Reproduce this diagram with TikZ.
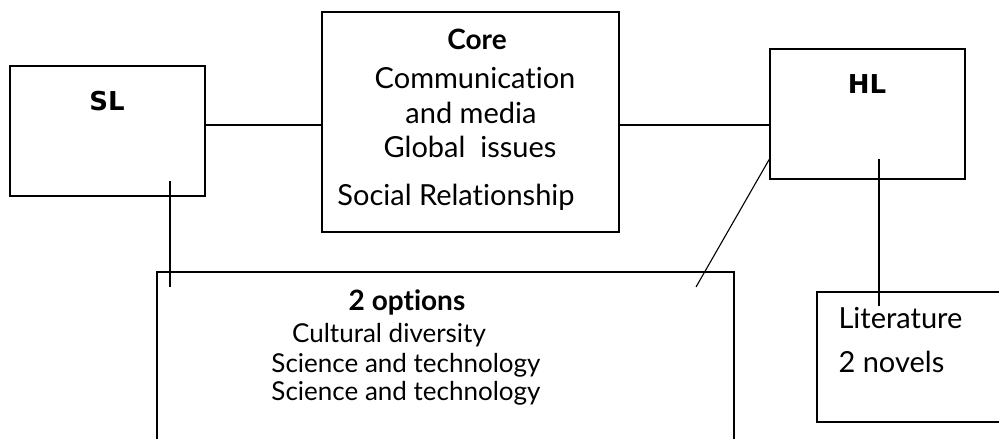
\documentclass[tikz,border=0pt]{standalone}
\usepackage{fontspec}
\setmainfont{Lato}[Ligatures=NoCommon]
\newfontfamily\lvlfont{DejaVu Sans}
\begin{document}
\begin{tikzpicture}[x=1pt,y=-1pt,line width=1.1pt,
    box/.style={draw,inner sep=0pt},
    txt/.style={anchor=base,inner sep=0pt,font=\fontsize{26}{30}\selectfont},
    big/.style={txt,font=\fontsize{29}{34}\selectfont},
    head/.style={txt,font=\fontsize{28}{32}\selectfont\bfseries},
    lvl/.style={anchor=base,inner sep=0pt,font=\lvlfont\bfseries\fontsize{26}{30}\selectfont}]
  \useasboundingbox(0,0)rectangle(999,439);
  \clip(0,0)rectangle(999,439);
  % boxes
  \node[box,minimum width=195pt,minimum height=130pt](sl)at(107.5,131){};
  \node[box,minimum width=297pt,minimum height=220pt](core)at(470.5,122){};
  \node[box,minimum width=195pt,minimum height=130pt](hl)at(867.5,114){};
  \node[box,minimum width=577pt,minimum height=200pt](opt)at(445.5,372){};
  \node[box,minimum width=213pt,minimum height=130pt](lit)at(923.5,357){};
  % texts
  \node[lvl](sltxt)at(107,110){SL};
  \node[lvl](hltxt)at(867,93){HL};
  \node[head](coretxt)at(477,49){Core};
  \node[big](core1)at(475,88){Communication};
  \node[big](core2)at(471,123){and media};
  \node[big](core3)at(470,157){Global\ \ issues};
  \node[big](core4)at(456,205){Social Relationship};
  \node[head](opttxt)at(407,310){2 options};
  \node[txt](opt1)at(389,342){Cultural diversity};
  \node[txt](opt2)at(406,372){Science and technology};
  \node[txt](opt3)at(406,400){Science and technology};
  \node[big,anchor=base west](lit1)at(838,328){Literature};
  \node[big,anchor=base west](lit2)at(838,372){2 novels};
  % connectors
  \coordinate(mid)at(0,125);
  \coordinate(slin)at(170,181);
  \coordinate(slend)at(170,287);
  \coordinate(hlin)at(879,159);
  \coordinate(hlend)at(879,306);
  \coordinate(diagin)at(0,159);
  \coordinate(diagend)at(696,287);
  \draw(sl.east|-mid)--(core.west|-mid);
  \draw(core.east|-mid)--(hl.west|-mid);
  \draw(slin)--(slend);
  \draw(hl.west|-diagin)--(diagend);
  \draw(hlin)--(hlend);
\end{tikzpicture}
\end{document}
